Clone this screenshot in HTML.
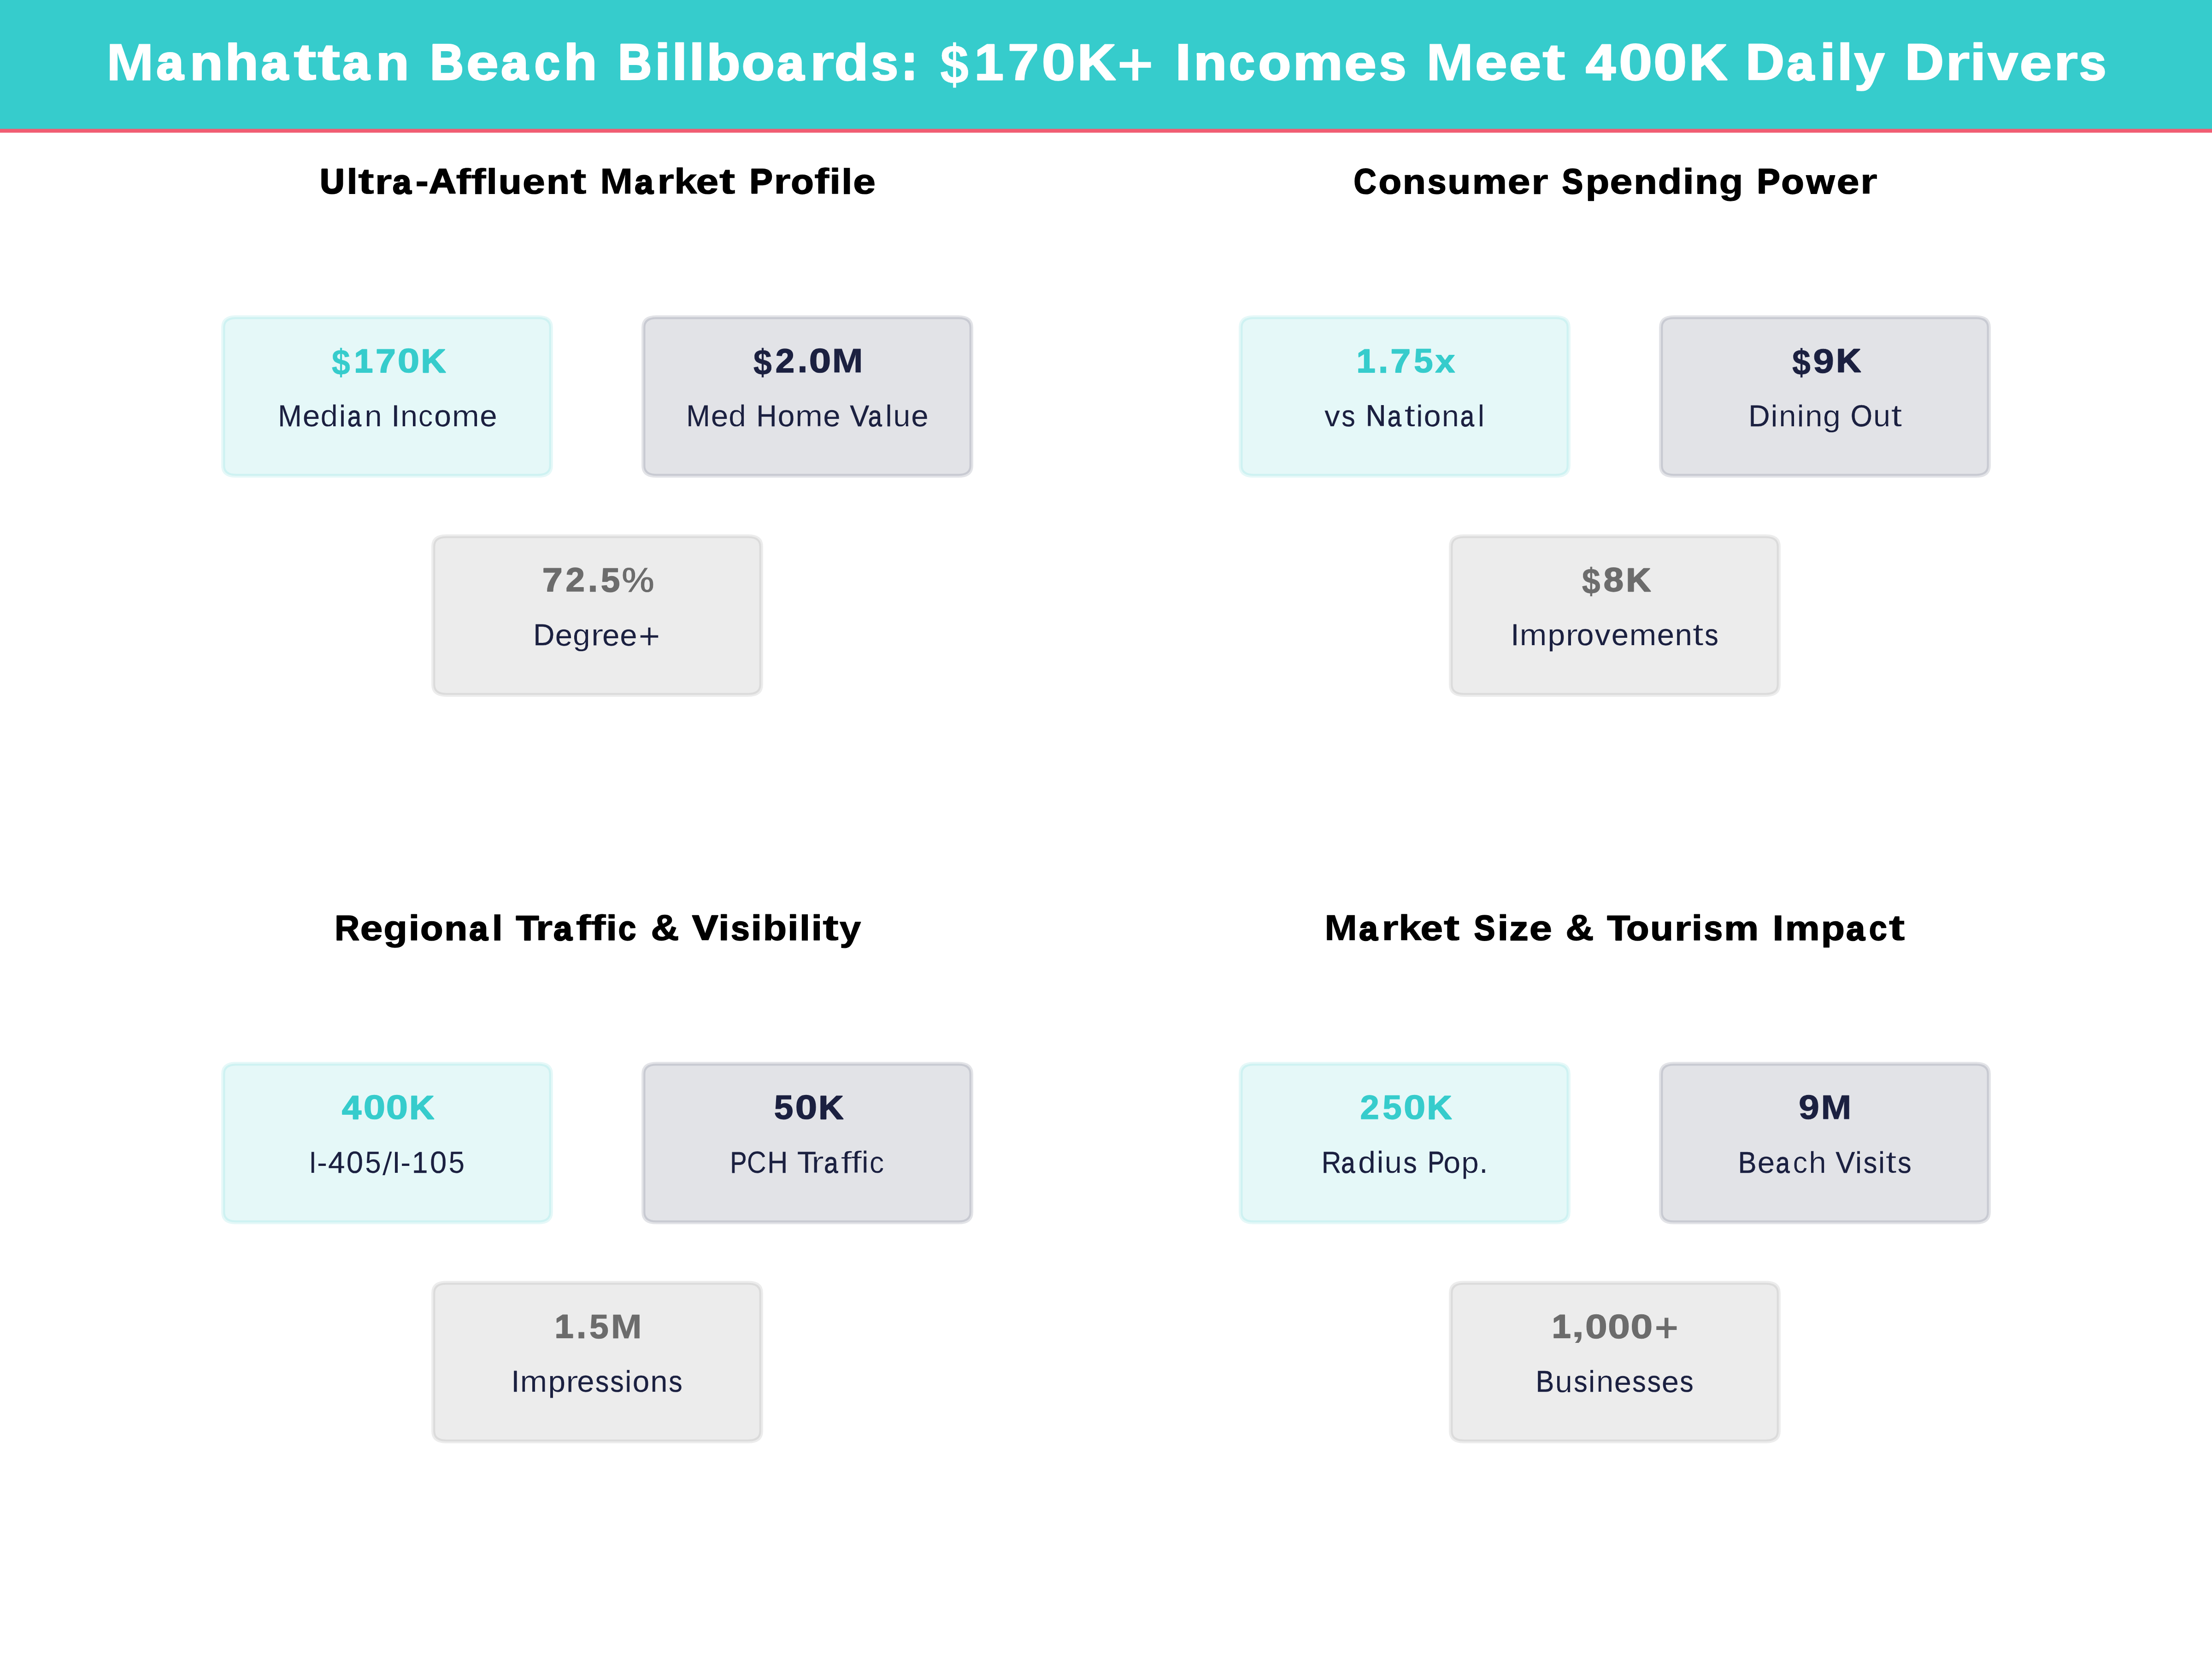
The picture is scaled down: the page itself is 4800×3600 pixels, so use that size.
<!DOCTYPE html>
<html><head><meta charset="utf-8"><title>Manhattan Beach Billboards: $170K+ Incomes Meet 400K Daily Drivers</title>
<style>
html,body{margin:0;padding:0;width:4800px;height:3600px;overflow:hidden;background:#fff;}
svg{display:block;}
text{font-family:"Liberation Sans",sans-serif;text-rendering:geometricPrecision;}
</style></head>
<body>
<svg width="4800" height="3600" viewBox="0 0 4800 3600">
<defs><clipPath id="e0"><text font-size="108.333" font-weight="700">+</text></clipPath><clipPath id="e1"><text font-size="62.5" font-weight="400">d</text></clipPath><clipPath id="e2"><text font-size="62.5" font-weight="400">n</text></clipPath><clipPath id="e3"><text font-size="62.5" font-weight="400">n</text></clipPath><clipPath id="e4"><text font-size="62.5" font-weight="400">c</text></clipPath><clipPath id="e5"><text font-size="62.5" font-weight="400">m</text></clipPath><clipPath id="e6"><text font-size="62.5" font-weight="400">d</text></clipPath><clipPath id="e7"><text font-size="62.5" font-weight="400">m</text></clipPath><clipPath id="e8"><text font-size="62.5" font-weight="400">u</text></clipPath><clipPath id="e9"><text font-size="70.833" font-weight="700">%</text></clipPath><clipPath id="e10"><text font-size="62.5" font-weight="400">g</text></clipPath><clipPath id="e11"><text font-size="62.5" font-weight="400">r</text></clipPath><clipPath id="e12"><text font-size="62.5" font-weight="400">+</text></clipPath><clipPath id="e13"><text font-size="62.5" font-weight="400">t</text></clipPath><clipPath id="e14"><text font-size="62.5" font-weight="400">n</text></clipPath><clipPath id="e15"><text font-size="62.5" font-weight="400">n</text></clipPath><clipPath id="e16"><text font-size="62.5" font-weight="400">n</text></clipPath><clipPath id="e17"><text font-size="62.5" font-weight="400">g</text></clipPath><clipPath id="e18"><text font-size="62.5" font-weight="400">u</text></clipPath><clipPath id="e19"><text font-size="62.5" font-weight="400">t</text></clipPath><clipPath id="e20"><text font-size="62.5" font-weight="400">m</text></clipPath><clipPath id="e21"><text font-size="62.5" font-weight="400">r</text></clipPath><clipPath id="e22"><text font-size="62.5" font-weight="400">m</text></clipPath><clipPath id="e23"><text font-size="62.5" font-weight="400">t</text></clipPath><clipPath id="e24"><text font-size="62.5" font-weight="400">I</text></clipPath><clipPath id="e25"><text font-size="62.5" font-weight="400">-</text></clipPath><clipPath id="e26"><text font-size="62.5" font-weight="400">/</text></clipPath><clipPath id="e27"><text font-size="62.5" font-weight="400">I</text></clipPath><clipPath id="e28"><text font-size="62.5" font-weight="400">-</text></clipPath><clipPath id="e29"><text font-size="62.5" font-weight="400">r</text></clipPath><clipPath id="e30"><text font-size="62.5" font-weight="400">f</text></clipPath><clipPath id="e31"><text font-size="62.5" font-weight="400">f</text></clipPath><clipPath id="e32"><text font-size="62.5" font-weight="400">c</text></clipPath><clipPath id="e33"><text font-size="62.5" font-weight="400">m</text></clipPath><clipPath id="e34"><text font-size="62.5" font-weight="400">r</text></clipPath><clipPath id="e35"><text font-size="62.5" font-weight="400">u</text></clipPath><clipPath id="e36"><text font-size="62.5" font-weight="400">p</text></clipPath><clipPath id="e37"><text font-size="62.5" font-weight="400">c</text></clipPath><clipPath id="e38"><text font-size="62.5" font-weight="400">h</text></clipPath><clipPath id="e39"><text font-size="62.5" font-weight="400">t</text></clipPath><clipPath id="e40"><text font-size="70.833" font-weight="700">,</text></clipPath><clipPath id="e41"><text font-size="70.833" font-weight="700">+</text></clipPath><clipPath id="e42"><text font-size="62.5" font-weight="400">u</text></clipPath><clipPath id="e43"><text font-size="62.5" font-weight="400">n</text></clipPath></defs>
<rect width="4800" height="3600" fill="#ffffff"/>
<rect x="0" y="0" width="4800" height="284" fill="#36CCCC"/>
<rect x="0" y="279.6" width="4800" height="8.3" fill="#F05D73"/>
<path d="M512.25 688.3L1167.75 688.3Q1195.75 688.3 1195.75 710.3L1195.75 1010.4Q1195.75 1032.4 1167.75 1032.4L512.25 1032.4Q484.25 1032.4 484.25 1010.4L484.25 710.3Q484.25 688.3 512.25 688.3Z" fill="#36CCCC" fill-opacity="0.129" stroke="#36CCCC" stroke-opacity="0.129" stroke-width="8.333"/>
<path d="M1424.25 688.3L2079.75 688.3Q2107.75 688.3 2107.75 710.3L2107.75 1010.4Q2107.75 1032.4 2079.75 1032.4L1424.25 1032.4Q1396.25 1032.4 1396.25 1010.4L1396.25 710.3Q1396.25 688.3 1424.25 688.3Z" fill="#1B2040" fill-opacity="0.125" stroke="#1B2040" stroke-opacity="0.125" stroke-width="8.333"/>
<path d="M968.25 1163.7L1623.75 1163.7Q1651.75 1163.7 1651.75 1185.7L1651.75 1485.8Q1651.75 1507.8 1623.75 1507.8L968.25 1507.8Q940.25 1507.8 940.25 1485.8L940.25 1185.7Q940.25 1163.7 968.25 1163.7Z" fill="#6C6C6C" fill-opacity="0.129" stroke="#6C6C6C" stroke-opacity="0.129" stroke-width="8.333"/>
<path d="M2720.25 688.3L3375.75 688.3Q3403.75 688.3 3403.75 710.3L3403.75 1010.4Q3403.75 1032.4 3375.75 1032.4L2720.25 1032.4Q2692.25 1032.4 2692.25 1010.4L2692.25 710.3Q2692.25 688.3 2720.25 688.3Z" fill="#36CCCC" fill-opacity="0.129" stroke="#36CCCC" stroke-opacity="0.129" stroke-width="8.333"/>
<path d="M3632.25 688.3L4287.75 688.3Q4315.75 688.3 4315.75 710.3L4315.75 1010.4Q4315.75 1032.4 4287.75 1032.4L3632.25 1032.4Q3604.25 1032.4 3604.25 1010.4L3604.25 710.3Q3604.25 688.3 3632.25 688.3Z" fill="#1B2040" fill-opacity="0.125" stroke="#1B2040" stroke-opacity="0.125" stroke-width="8.333"/>
<path d="M3176.25 1163.7L3831.75 1163.7Q3859.75 1163.7 3859.75 1185.7L3859.75 1485.8Q3859.75 1507.8 3831.75 1507.8L3176.25 1507.8Q3148.25 1507.8 3148.25 1485.8L3148.25 1185.7Q3148.25 1163.7 3176.25 1163.7Z" fill="#6C6C6C" fill-opacity="0.129" stroke="#6C6C6C" stroke-opacity="0.129" stroke-width="8.333"/>
<path d="M512.25 2308.3L1167.75 2308.3Q1195.75 2308.3 1195.75 2330.3L1195.75 2630.4Q1195.75 2652.4 1167.75 2652.4L512.25 2652.4Q484.25 2652.4 484.25 2630.4L484.25 2330.3Q484.25 2308.3 512.25 2308.3Z" fill="#36CCCC" fill-opacity="0.129" stroke="#36CCCC" stroke-opacity="0.129" stroke-width="8.333"/>
<path d="M1424.25 2308.3L2079.75 2308.3Q2107.75 2308.3 2107.75 2330.3L2107.75 2630.4Q2107.75 2652.4 2079.75 2652.4L1424.25 2652.4Q1396.25 2652.4 1396.25 2630.4L1396.25 2330.3Q1396.25 2308.3 1424.25 2308.3Z" fill="#1B2040" fill-opacity="0.125" stroke="#1B2040" stroke-opacity="0.125" stroke-width="8.333"/>
<path d="M968.25 2783.7L1623.75 2783.7Q1651.75 2783.7 1651.75 2805.7L1651.75 3105.8Q1651.75 3127.8 1623.75 3127.8L968.25 3127.8Q940.25 3127.8 940.25 3105.8L940.25 2805.7Q940.25 2783.7 968.25 2783.7Z" fill="#6C6C6C" fill-opacity="0.129" stroke="#6C6C6C" stroke-opacity="0.129" stroke-width="8.333"/>
<path d="M2720.25 2308.3L3375.75 2308.3Q3403.75 2308.3 3403.75 2330.3L3403.75 2630.4Q3403.75 2652.4 3375.75 2652.4L2720.25 2652.4Q2692.25 2652.4 2692.25 2630.4L2692.25 2330.3Q2692.25 2308.3 2720.25 2308.3Z" fill="#36CCCC" fill-opacity="0.129" stroke="#36CCCC" stroke-opacity="0.129" stroke-width="8.333"/>
<path d="M3632.25 2308.3L4287.75 2308.3Q4315.75 2308.3 4315.75 2330.3L4315.75 2630.4Q4315.75 2652.4 4287.75 2652.4L3632.25 2652.4Q3604.25 2652.4 3604.25 2630.4L3604.25 2330.3Q3604.25 2308.3 3632.25 2308.3Z" fill="#1B2040" fill-opacity="0.125" stroke="#1B2040" stroke-opacity="0.125" stroke-width="8.333"/>
<path d="M3176.25 2783.7L3831.75 2783.7Q3859.75 2783.7 3859.75 2805.7L3859.75 3105.8Q3859.75 3127.8 3831.75 3127.8L3176.25 3127.8Q3148.25 3127.8 3148.25 3105.8L3148.25 2805.7Q3148.25 2783.7 3176.25 2783.7Z" fill="#6C6C6C" fill-opacity="0.129" stroke="#6C6C6C" stroke-opacity="0.129" stroke-width="8.333"/>
<g font-size="108.333" font-weight="700" fill="#FFFFFF" stroke="#FFFFFF" stroke-linejoin="round"><text transform="matrix(1.148 0 0 1.048 230.405 173.777)" stroke-width="0.779">M</text><text transform="matrix(0.96 0 0 0.974 339.937 172.499)" stroke-width="4.682">a</text><text transform="matrix(1.082 0 0 0.99 412.028 172.743)" stroke-width="2.905">n</text><text transform="matrix(1.099 0 0 1.017 488.334 172.949)" stroke-width="2.417">h</text><text transform="matrix(0.96 0 0 0.974 567.207 172.499)" stroke-width="4.682">a</text><text transform="matrix(1.396 0 0 1.046 636.638 172.624)" stroke-width="0.997">t</text><text transform="matrix(1.396 0 0 1.046 688.406 172.624)" stroke-width="0.997">t</text><text transform="matrix(0.96 0 0 0.974 743.821 172.499)" stroke-width="4.682">a</text><text transform="matrix(1.082 0 0 0.99 815.912 172.743)" stroke-width="2.905">n </text><text transform="matrix(0.92 0 0 1.005 933.686 172.149)" stroke-width="4.369">B</text><text transform="matrix(1.166 0 0 1.007 1011.715 173.457)" stroke-width="2.286">e</text><text transform="matrix(0.957 0 0 0.972 1088.003 172.442)" stroke-width="4.824">a</text><text transform="matrix(0.936 0 0 1.002 1159.143 173.311)" stroke-width="2.884">c</text><text transform="matrix(1.095 0 0 1.015 1223.299 172.892)" stroke-width="2.534">h </text><text transform="matrix(0.925 0 0 1.007 1341.574 172.224)" stroke-width="4.191">B</text><text transform="matrix(1.151 0 0 1.025 1420.322 173.28)" stroke-width="1.975">i</text><text transform="matrix(1.263 0 0 1.046 1455.806 174.116)" stroke-width="0.183">l</text><text transform="matrix(1.263 0 0 1.046 1492.977 174.116)" stroke-width="0.183">l</text><text transform="matrix(1.127 0 0 1.028 1532.619 173.6)" stroke-width="1.981">b</text><text transform="matrix(1.074 0 0 0.994 1609.852 173.086)" stroke-width="3.191">o</text><text transform="matrix(0.962 0 0 0.974 1686.442 172.509)" stroke-width="4.655">a</text><text transform="matrix(1.295 0 0 1.026 1756.083 173.794)" stroke-width="0.734">r</text><text transform="matrix(1.126 0 0 1.027 1810.246 173.569)" stroke-width="2.045">d</text><text transform="matrix(0.975 0 0 0.996 1890.349 173.153)" stroke-width="3.172">s</text><text transform="matrix(0.86 0 0 0.973 1957.626 171.2)" stroke-width="6.556">: </text><text transform="matrix(1.031 0 0 1.105 2040.077 180.988)" stroke-width="0.471">$</text><text transform="matrix(1.047 0 0 1.02 2114.784 172.731)" stroke-width="2.902">1</text><text transform="matrix(1.116 0 0 1.023 2187.065 172.823)" stroke-width="2.626">7</text><text transform="matrix(1.234 0 0 1.049 2259.658 173.903)" stroke-width="1.299">0</text><text transform="matrix(1.059 0 0 1.017 2338.302 172.61)" stroke-width="3.11">K</text><text transform="matrix(1.299 0 0 1.285 2422.61 186.513)" stroke="#36CCCC" stroke-width="2.148" clip-path="url(#e0)">+ </text><text transform="matrix(1.288 0 0 1.056 2548.083 174.081)" stroke-width="0.255">I</text><text transform="matrix(1.081 0 0 0.99 2590.463 172.742)" stroke-width="2.907">n</text><text transform="matrix(0.939 0 0 1.004 2666.687 173.36)" stroke-width="2.768">c</text><text transform="matrix(1.071 0 0 0.994 2730.587 173.074)" stroke-width="3.222">o</text><text transform="matrix(1.125 0 0 0.998 2805.389 172.984)" stroke-width="2.333">m</text><text transform="matrix(1.17 0 0 1.009 2916.869 173.508)" stroke-width="2.18">e</text><text transform="matrix(0.973 0 0 0.995 2992.855 173.142)" stroke-width="3.198">s </text><text transform="matrix(1.144 0 0 1.047 3094.476 173.731)" stroke-width="0.865">M</text><text transform="matrix(1.166 0 0 1.007 3200.851 173.459)" stroke-width="2.283">e</text><text transform="matrix(1.166 0 0 1.007 3274.152 173.459)" stroke-width="2.283">e</text><text transform="matrix(1.39 0 0 1.044 3346.766 172.562)" stroke-width="1.111">t </text><text transform="matrix(1.068 0 0 1.015 3441.206 172.543)" stroke-width="3.24">4</text><text transform="matrix(1.228 0 0 1.049 3512.222 173.876)" stroke-width="1.352">0</text><text transform="matrix(1.228 0 0 1.049 3587.34 173.876)" stroke-width="1.352">0</text><text transform="matrix(1.054 0 0 1.016 3665.687 172.588)" stroke-width="3.156">K </text><text transform="matrix(1.066 0 0 1.013 3788.316 172.455)" stroke-width="3.436">D</text><text transform="matrix(0.963 0 0 0.975 3878.115 172.529)" stroke-width="4.604">a</text><text transform="matrix(1.155 0 0 1.026 3948.743 173.315)" stroke-width="1.893">i</text><text transform="matrix(1.27 0 0 1.048 3984.184 174.167)" stroke-width="0.071">l</text><text transform="matrix(1.115 0 0 1.014 4023.092 173.889)" stroke-width="1.705">y </text><text transform="matrix(1.065 0 0 1.012 4134.35 172.432)" stroke-width="3.486">D</text><text transform="matrix(1.294 0 0 1.026 4220.546 173.796)" stroke-width="0.73">r</text><text transform="matrix(1.15 0 0 1.025 4275.023 173.284)" stroke-width="1.967">i</text><text transform="matrix(1.104 0 0 1.003 4312.942 173.279)" stroke-width="1.792">v</text><text transform="matrix(1.171 0 0 1.01 4382.31 173.521)" stroke-width="2.153">e</text><text transform="matrix(1.294 0 0 1.026 4455.203 173.796)" stroke-width="0.73">r</text><text transform="matrix(0.975 0 0 0.996 4511.79 173.155)" stroke-width="3.172">s</text></g>
<g font-size="75" font-weight="700" fill="#000000" stroke="#000000" stroke-linejoin="round"><text transform="matrix(0.967 0 0 0.998 694.693 419.383)" stroke-width="3.645">U</text><text transform="matrix(1.259 0 0 1.046 751.022 420.729)" stroke-width="0.156">l</text><text transform="matrix(1.396 0 0 1.046 777.037 419.711)" stroke-width="0.687">t</text><text transform="matrix(1.292 0 0 1.026 812.926 420.513)" stroke-width="0.518">r</text><text transform="matrix(0.96 0 0 0.974 852.312 419.624)" stroke-width="3.237">a</text><text transform="matrix(1.201 0 0 1.182 900.817 422.191)" stroke-width="0.103">-</text><text transform="matrix(1.084 0 0 1.007 931.021 419.439)" stroke-width="2.65">A</text><text transform="matrix(1.311 0 0 1.038 989.322 420.516)" stroke-width="0.504">f</text><text transform="matrix(1.311 0 0 1.038 1021.912 420.516)" stroke-width="0.504">f</text><text transform="matrix(1.259 0 0 1.046 1054.243 420.729)" stroke-width="0.156">l</text><text transform="matrix(1.083 0 0 0.994 1081.941 420.156)" stroke-width="1.944">u</text><text transform="matrix(1.17 0 0 1.009 1134.067 420.324)" stroke-width="1.504">e</text><text transform="matrix(1.082 0 0 0.99 1186.232 419.794)" stroke-width="2.006">n</text><text transform="matrix(1.396 0 0 1.046 1237.72 419.711)" stroke-width="0.687">t </text><text transform="matrix(1.144 0 0 1.047 1301.879 420.48)" stroke-width="0.591">M</text><text transform="matrix(0.957 0 0 0.972 1377.528 419.589)" stroke-width="3.325">a</text><text transform="matrix(1.287 0 0 1.024 1425.564 420.477)" stroke-width="0.586">r</text><text transform="matrix(1.211 0 0 1.037 1462.453 420.49)" stroke-width="0.563">k</text><text transform="matrix(1.166 0 0 1.008 1510.575 420.292)" stroke-width="1.571">e</text><text transform="matrix(1.39 0 0 1.044 1560.82 419.672)" stroke-width="0.758">t </text><text transform="matrix(0.994 0 0 1.006 1626.686 419.428)" stroke-width="2.819">P</text><text transform="matrix(1.289 0 0 1.024 1678.533 420.481)" stroke-width="0.578">r</text><text transform="matrix(1.069 0 0 0.992 1716.45 419.988)" stroke-width="2.303">o</text><text transform="matrix(1.307 0 0 1.037 1766.718 420.482)" stroke-width="0.565">f</text><text transform="matrix(1.136 0 0 1.023 1800.253 420.104)" stroke-width="1.508">i</text><text transform="matrix(1.244 0 0 1.043 1824.803 420.655)" stroke-width="0.32">l</text><text transform="matrix(1.167 0 0 1.008 1851.17 420.294)" stroke-width="1.564">e</text></g>
<g font-size="75" font-weight="700" fill="#000000" stroke="#000000" stroke-linejoin="round"><text transform="matrix(0.908 0 0 1.032 2937.477 420.138)" stroke-width="2.03">C</text><text transform="matrix(1.073 0 0 0.996 2991.673 420.061)" stroke-width="2.142">o</text><text transform="matrix(1.083 0 0 0.992 3043.879 419.829)" stroke-width="1.932">n</text><text transform="matrix(0.975 0 0 0.997 3097.626 420.099)" stroke-width="2.144">s</text><text transform="matrix(1.085 0 0 0.996 3141.607 420.19)" stroke-width="1.87">u</text><text transform="matrix(1.126 0 0 1 3194.629 419.992)" stroke-width="1.547">m</text><text transform="matrix(1.171 0 0 1.011 3271.755 420.354)" stroke-width="1.442">e</text><text transform="matrix(1.295 0 0 1.027 3322.131 420.547)" stroke-width="0.457">r </text><text transform="matrix(0.904 0 0 1.02 3389.819 419.842)" stroke-width="2.697">S</text><text transform="matrix(1.123 0 0 0.999 3440.728 420.039)" stroke-width="1.561">p</text><text transform="matrix(1.173 0 0 1.01 3493.45 420.343)" stroke-width="1.462">e</text><text transform="matrix(1.085 0 0 0.991 3545.706 419.816)" stroke-width="1.957">n</text><text transform="matrix(1.127 0 0 1.027 3597.846 420.379)" stroke-width="1.384">d</text><text transform="matrix(1.156 0 0 1.026 3651.79 420.189)" stroke-width="1.307">i</text><text transform="matrix(1.085 0 0 0.991 3678.578 419.816)" stroke-width="1.957">n</text><text transform="matrix(1.136 0 0 1.012 3730.547 420.319)" stroke-width="1.117">g </text><text transform="matrix(0.995 0 0 1.006 3812.678 419.429)" stroke-width="2.817">P</text><text transform="matrix(1.07 0 0 0.992 3865.592 419.988)" stroke-width="2.301">o</text><text transform="matrix(1.058 0 0 0.987 3919.685 419.841)" stroke-width="1.9">w</text><text transform="matrix(1.169 0 0 1.008 3985.734 420.296)" stroke-width="1.562">e</text><text transform="matrix(1.29 0 0 1.024 4036.186 420.482)" stroke-width="0.576">r</text></g>
<g font-size="75" font-weight="700" fill="#000000" stroke="#000000" stroke-linejoin="round"><text transform="matrix(0.996 0 0 1.024 726.236 2039.868)" stroke-width="1.877">R</text><text transform="matrix(1.169 0 0 1.009 781.669 2040.318)" stroke-width="1.518">e</text><text transform="matrix(1.132 0 0 1.011 832.338 2040.308)" stroke-width="1.167">g</text><text transform="matrix(1.144 0 0 1.024 886.381 2040.144)" stroke-width="1.415">i</text><text transform="matrix(1.07 0 0 0.994 912.29 2040.015)" stroke-width="2.242">o</text><text transform="matrix(1.08 0 0 0.99 964.476 2039.788)" stroke-width="2.021">n</text><text transform="matrix(0.959 0 0 0.974 1018.451 2039.619)" stroke-width="3.253">a</text><text transform="matrix(1.255 0 0 1.045 1066.131 2040.713)" stroke-width="0.191">l </text><text transform="matrix(1.083 0 0 1.011 1119.638 2039.55)" stroke-width="2.432">T</text><text transform="matrix(1.285 0 0 1.022 1162.091 2040.433)" stroke-width="0.668">r</text><text transform="matrix(0.956 0 0 0.97 1201.45 2039.544)" stroke-width="3.43">a</text><text transform="matrix(1.304 0 0 1.035 1249.391 2040.432)" stroke-width="0.657">f</text><text transform="matrix(1.304 0 0 1.035 1281.976 2040.432)" stroke-width="0.657">f</text><text transform="matrix(1.122 0 0 1.02 1315.623 2040.028)" stroke-width="1.691">i</text><text transform="matrix(0.935 0 0 1.001 1341.567 2040.152)" stroke-width="2.071">c </text><text transform="matrix(1.134 0 0 1.051 1412.259 2040.396)" stroke-width="1.286">&amp; </text><text transform="matrix(1.116 0 0 1.008 1502.269 2039.459)" stroke-width="2.567">V</text><text transform="matrix(1.157 0 0 1.026 1558.728 2040.19)" stroke-width="1.304">i</text><text transform="matrix(0.977 0 0 0.996 1585.964 2040.09)" stroke-width="2.161">s</text><text transform="matrix(1.157 0 0 1.026 1629.163 2040.19)" stroke-width="1.304">i</text><text transform="matrix(1.129 0 0 1.028 1655.478 2040.401)" stroke-width="1.338">b</text><text transform="matrix(1.157 0 0 1.026 1708.653 2040.19)" stroke-width="1.304">i</text><text transform="matrix(1.272 0 0 1.048 1733.199 2040.782)" stroke="none">l</text><text transform="matrix(1.157 0 0 1.026 1760.131 2040.19)" stroke-width="1.304">i</text><text transform="matrix(1.401 0 0 1.047 1785.094 2039.736)" stroke-width="0.641">t</text><text transform="matrix(1.116 0 0 1.014 1821.79 2040.585)" stroke-width="1.178">y</text></g>
<g font-size="75" font-weight="700" fill="#000000" stroke="#000000" stroke-linejoin="round"><text transform="matrix(1.144 0 0 1.047 2873.898 2040.464)" stroke-width="0.62">M</text><text transform="matrix(0.955 0 0 0.971 2949.551 2039.569)" stroke-width="3.369">a</text><text transform="matrix(1.285 0 0 1.023 2997.592 2040.457)" stroke-width="0.622">r</text><text transform="matrix(1.21 0 0 1.036 3034.476 2040.472)" stroke-width="0.595">k</text><text transform="matrix(1.165 0 0 1.007 3082.598 2040.273)" stroke-width="1.607">e</text><text transform="matrix(1.388 0 0 1.043 3132.843 2039.651)" stroke-width="0.797">t </text><text transform="matrix(0.909 0 0 1.021 3198.798 2039.851)" stroke-width="2.669">S</text><text transform="matrix(1.166 0 0 1.027 3249.242 2040.205)" stroke-width="1.265">i</text><text transform="matrix(1.086 0 0 0.975 3275.602 2039.601)" stroke-width="2.402">z</text><text transform="matrix(1.18 0 0 1.011 3318.736 2040.353)" stroke-width="1.439">e </text><text transform="matrix(1.134 0 0 1.051 3397.259 2040.396)" stroke-width="1.286">&amp; </text><text transform="matrix(1.085 0 0 1.014 3487.56 2039.626)" stroke-width="2.277">T</text><text transform="matrix(1.069 0 0 0.994 3529.182 2040.018)" stroke-width="2.236">o</text><text transform="matrix(1.081 0 0 0.994 3581.171 2040.151)" stroke-width="1.955">u</text><text transform="matrix(1.29 0 0 1.025 3632.822 2040.508)" stroke-width="0.528">r</text><text transform="matrix(1.144 0 0 1.024 3670.459 2040.147)" stroke-width="1.408">i</text><text transform="matrix(0.972 0 0 0.995 3697.53 2040.066)" stroke-width="2.22">s</text><text transform="matrix(1.123 0 0 0.998 3741.174 2039.957)" stroke-width="1.618">m </text><text transform="matrix(1.285 0 0 1.056 3844.941 2040.71)" stroke-width="0.193">I</text><text transform="matrix(1.124 0 0 0.998 3873.772 2039.956)" stroke-width="1.62">m</text><text transform="matrix(1.118 0 0 0.998 3951.836 2040.027)" stroke-width="1.617">p</text><text transform="matrix(0.959 0 0 0.974 4006.438 2039.621)" stroke-width="3.25">a</text><text transform="matrix(0.938 0 0 1.004 4055.672 2040.216)" stroke-width="1.924">c</text><text transform="matrix(1.394 0 0 1.046 4098.766 2039.704)" stroke-width="0.699">t</text></g>
<g font-size="70.833" font-weight="700" fill="#36CCCC" stroke="#36CCCC" stroke-linejoin="round"><text transform="matrix(1.021 0 0 1.103 719.769 813.089)" stroke-width="0.423">$</text><text transform="matrix(1.034 0 0 1.017 768.378 807.653)" stroke-width="2.086">1</text><text transform="matrix(1.104 0 0 1.019 815.348 807.713)" stroke-width="1.897">7</text><text transform="matrix(1.22 0 0 1.045 862.546 808.404)" stroke-width="1.048">0</text><text transform="matrix(1.048 0 0 1.013 913.647 807.572)" stroke-width="2.222">K</text></g>
<g font-size="62.5" font-weight="400" fill="#1B2040" stroke="#1B2040" stroke-linejoin="round"><text transform="matrix(0.992 0 0 1.054 603.342 924.77)" stroke-width="0.254">M</text><text transform="matrix(1.081 0 0 1.048 656.75 925.139)" stroke="none">e</text><text transform="matrix(1.093 0 0 1.057 695.195 925.201)" stroke="#E5F8F8" stroke-width="0.114" clip-path="url(#e1)">d</text><text transform="matrix(0.913 0 0 1.035 736.786 924.596)" stroke-width="0.747">i</text><text transform="matrix(0.872 0 0 1.021 753.7 924.698)" stroke-width="0.989">a</text><text transform="matrix(1.084 0 0 1.044 791.271 924.961)" stroke="#E5F8F8" stroke-width="0.115" clip-path="url(#e2)">n </text><text transform="matrix(0.985 0 0 1.05 849.832 924.689)" stroke-width="0.522">I</text><text transform="matrix(1.08 0 0 1.043 868.751 924.932)" stroke="#E5F8F8" stroke-width="0.06" clip-path="url(#e3)">n</text><text transform="matrix(1.01 0 0 1.054 907.846 925.242)" stroke="#E5F8F8" stroke-width="0.196" clip-path="url(#e4)">c</text><text transform="matrix(1.055 0 0 1.042 942.318 925.036)" stroke-width="0.218">o</text><text transform="matrix(1.144 0 0 1.048 980.544 925.024)" stroke="#E5F8F8" stroke-width="0.227" clip-path="url(#e5)">m</text><text transform="matrix(1.077 0 0 1.046 1041.215 925.112)" stroke-width="0.066">e</text></g>
<g font-size="70.833" font-weight="700" fill="#1B2040" stroke="#1B2040" stroke-linejoin="round"><text transform="matrix(1.02 0 0 1.101 1634.817 813.051)" stroke-width="0.512">$</text><text transform="matrix(1.05 0 0 1.032 1682.847 807.929)" stroke-width="1.512">2</text><text transform="matrix(1.192 0 0 1.224 1729.863 808.462)" stroke-width="0.5">.</text><text transform="matrix(1.217 0 0 1.042 1755.587 808.322)" stroke-width="1.205">0</text><text transform="matrix(1.139 0 0 1.044 1805.5 808.321)" stroke-width="0.702">M</text></g>
<g font-size="62.5" font-weight="400" fill="#1B2040" stroke="#1B2040" stroke-linejoin="round"><text transform="matrix(0.991 0 0 1.054 1489.333 924.785)" stroke-width="0.226">M</text><text transform="matrix(1.08 0 0 1.049 1542.644 925.154)" stroke="none">e</text><text transform="matrix(1.092 0 0 1.057 1581.019 925.216)" stroke="#E2E3E7" stroke-width="0.143" clip-path="url(#e6)">d </text><text transform="matrix(0.977 0 0 1.049 1641.527 924.663)" stroke-width="0.471">H</text><text transform="matrix(1.052 0 0 1.042 1687.776 925.044)" stroke-width="0.201">o</text><text transform="matrix(1.141 0 0 1.049 1725.869 925.03)" stroke="#E2E3E7" stroke-width="0.239" clip-path="url(#e7)">m</text><text transform="matrix(1.074 0 0 1.047 1786.327 925.119)" stroke-width="0.052">e </text><text transform="matrix(0.995 0 0 1.044 1844.561 924.566)" stroke-width="0.658">V</text><text transform="matrix(0.865 0 0 1.019 1883.704 924.663)" stroke-width="1.072">a</text><text transform="matrix(0.941 0 0 1.039 1922.041 924.688)" stroke-width="0.54">l</text><text transform="matrix(1.083 0 0 1.074 1938 925.25)" stroke="#E2E3E7" stroke-width="0.225" clip-path="url(#e8)">u</text><text transform="matrix(1.074 0 0 1.046 1977.325 925.106)" stroke-width="0.078">e</text></g>
<g font-size="70.833" font-weight="700" fill="#6C6C6C" stroke="#6C6C6C" stroke-linejoin="round"><text transform="matrix(1.104 0 0 1.016 1177 1283.041)" stroke-width="2.041">7</text><text transform="matrix(1.052 0 0 1.032 1227.533 1283.326)" stroke-width="1.514">2</text><text transform="matrix(1.194 0 0 1.223 1274.644 1283.859)" stroke-width="0.507">.</text><text transform="matrix(1.059 0 0 1.036 1303.644 1283.669)" stroke-width="1.394">5</text><text transform="matrix(1.128 0 0 1.089 1348.904 1284.848)" stroke="#ECECEC" stroke-width="0.628" clip-path="url(#e9)">%</text></g>
<g font-size="62.5" font-weight="400" fill="#1B2040" stroke="#1B2040" stroke-linejoin="round"><text transform="matrix(1.021 0 0 1.05 1157.265 1400.103)" stroke-width="0.383">D</text><text transform="matrix(1.074 0 0 1.046 1204.776 1400.509)" stroke-width="0.072">e</text><text transform="matrix(1.087 0 0 1.035 1243.004 1399.938)" stroke="#ECECEC" stroke-width="0.106" clip-path="url(#e10)">g</text><text transform="matrix(1.338 0 0 1.069 1281.65 1400.773)" stroke="#ECECEC" stroke-width="0.804" clip-path="url(#e11)">r</text><text transform="matrix(1.074 0 0 1.046 1306.881 1400.509)" stroke-width="0.072">e</text><text transform="matrix(1.074 0 0 1.046 1345.205 1400.509)" stroke-width="0.072">e</text><text transform="matrix(1.302 0 0 1.299 1385.258 1407.713)" stroke="#ECECEC" stroke-width="0.424" clip-path="url(#e12)">+</text></g>
<g font-size="70.833" font-weight="700" fill="#36CCCC" stroke="#36CCCC" stroke-linejoin="round"><text transform="matrix(1.036 0 0 1.017 2943.712 807.668)" stroke-width="2.056">1</text><text transform="matrix(1.217 0 0 1.249 2989.809 808.596)" stroke-width="0.213">.</text><text transform="matrix(1.105 0 0 1.02 3017.451 807.727)" stroke-width="1.868">7</text><text transform="matrix(1.06 0 0 1.039 3067.903 808.347)" stroke-width="1.236">5</text><text transform="matrix(1.086 0 0 0.993 3114.48 807.916)" stroke-width="1.532">x</text></g>
<g font-size="62.5" font-weight="400" fill="#1B2040" stroke="#1B2040" stroke-linejoin="round"><text transform="matrix(1.068 0 0 1.031 2874.333 924.839)" stroke-width="0.117">v</text><text transform="matrix(0.941 0 0 1.042 2911.271 924.995)" stroke-width="0.313">s </text><text transform="matrix(0.957 0 0 1.035 2963.926 924.367)" stroke-width="1.075">N</text><text transform="matrix(0.869 0 0 1.02 3010.846 924.675)" stroke-width="1.042">a</text><text transform="matrix(1.387 0 0 1.093 3047.163 924.773)" stroke="#E5F8F8" stroke-width="0.67" clip-path="url(#e13)">t</text><text transform="matrix(0.893 0 0 1.033 3074.214 924.546)" stroke-width="0.884">i</text><text transform="matrix(1.056 0 0 1.042 3089.851 925.043)" stroke-width="0.204">o</text><text transform="matrix(1.081 0 0 1.043 3128.45 924.938)" stroke="#E5F8F8" stroke-width="0.073" clip-path="url(#e14)">n</text><text transform="matrix(0.869 0 0 1.02 3168.838 924.675)" stroke-width="1.042">a</text><text transform="matrix(0.958 0 0 1.041 3207.228 924.724)" stroke-width="0.444">l</text></g>
<g font-size="70.833" font-weight="700" fill="#1B2040" stroke="#1B2040" stroke-linejoin="round"><text transform="matrix(1.014 0 0 1.099 3888.887 812.998)" stroke-width="0.637">$</text><text transform="matrix(1.162 0 0 1.049 3934.198 808.517)" stroke-width="0.851">9</text><text transform="matrix(1.039 0 0 1.006 3984.721 807.403)" stroke-width="2.577">K</text></g>
<g font-size="62.5" font-weight="400" fill="#1B2040" stroke="#1B2040" stroke-linejoin="round"><text transform="matrix(1.026 0 0 1.051 3794.221 924.718)" stroke-width="0.352">D</text><text transform="matrix(0.899 0 0 1.033 3843.834 924.556)" stroke-width="0.855">i</text><text transform="matrix(1.083 0 0 1.043 3859.884 924.943)" stroke="#E2E3E7" stroke-width="0.082" clip-path="url(#e15)">n</text><text transform="matrix(0.899 0 0 1.033 3900.888 924.556)" stroke-width="0.855">i</text><text transform="matrix(1.083 0 0 1.043 3916.938 924.943)" stroke="#E2E3E7" stroke-width="0.082" clip-path="url(#e16)">n</text><text transform="matrix(1.093 0 0 1.035 3955.971 924.544)" stroke="#E2E3E7" stroke-width="0.132" clip-path="url(#e17)">g </text><text transform="matrix(0.973 0 0 1.055 4015.719 924.841)" stroke-width="0.595">O</text><text transform="matrix(1.083 0 0 1.072 4064.773 925.207)" stroke="#E2E3E7" stroke-width="0.142" clip-path="url(#e18)">u</text><text transform="matrix(1.378 0 0 1.09 4103.543 924.71)" stroke="#E2E3E7" stroke-width="0.565" clip-path="url(#e19)">t</text></g>
<g font-size="70.833" font-weight="700" fill="#6C6C6C" stroke="#6C6C6C" stroke-linejoin="round"><text transform="matrix(1.015 0 0 1.1 3432.869 1288.413)" stroke-width="0.604">$</text><text transform="matrix(1.098 0 0 1.031 3479.716 1283.448)" stroke-width="1.811">8</text><text transform="matrix(1.04 0 0 1.007 3528.69 1282.829)" stroke-width="2.521">K</text></g>
<g font-size="62.5" font-weight="400" fill="#1B2040" stroke="#1B2040" stroke-linejoin="round"><text transform="matrix(0.967 0 0 1.048 3278.98 1400.045)" stroke-width="0.64">I</text><text transform="matrix(1.141 0 0 1.047 3297.373 1400.41)" stroke="#ECECEC" stroke-width="0.202" clip-path="url(#e20)">m</text><text transform="matrix(1.082 0 0 1.029 3358.586 1399.914)" stroke-width="0.072">p</text><text transform="matrix(1.336 0 0 1.068 3396.444 1400.762)" stroke="#ECECEC" stroke-width="0.785" clip-path="url(#e21)">r</text><text transform="matrix(1.051 0 0 1.041 3421.845 1400.421)" stroke-width="0.248">o</text><text transform="matrix(1.068 0 0 1.028 3460.898 1400.184)" stroke-width="0.224">v</text><text transform="matrix(1.073 0 0 1.045 3496.66 1400.498)" stroke-width="0.093">e</text><text transform="matrix(1.141 0 0 1.047 3535.166 1400.41)" stroke="#ECECEC" stroke-width="0.202" clip-path="url(#e22)">m</text><text transform="matrix(1.073 0 0 1.045 3595.678 1400.498)" stroke-width="0.093">e</text><text transform="matrix(1.076 0 0 1.042 3634.546 1400.317)" stroke="none">n</text><text transform="matrix(1.38 0 0 1.092 3672.84 1400.15)" stroke="#ECECEC" stroke-width="0.633" clip-path="url(#e23)">t</text><text transform="matrix(0.94 0 0 1.039 3699.233 1400.343)" stroke-width="0.424">s</text></g>
<g font-size="70.833" font-weight="700" fill="#36CCCC" stroke="#36CCCC" stroke-linejoin="round"><text transform="matrix(1.059 0 0 1.012 742.33 2427.534)" stroke-width="2.294">4</text><text transform="matrix(1.217 0 0 1.045 788.609 2428.393)" stroke-width="1.069">0</text><text transform="matrix(1.217 0 0 1.045 837.534 2428.393)" stroke-width="1.069">0</text><text transform="matrix(1.046 0 0 1.013 888.55 2427.563)" stroke-width="2.243">K</text></g>
<g font-size="62.5" font-weight="400" fill="#1B2040" stroke="#1B2040" stroke-linejoin="round"><text transform="matrix(1.089 0 0 1.064 669.131 2544.991)" stroke="#E5F8F8" stroke-width="0.21" clip-path="url(#e24)">I</text><text transform="matrix(1.086 0 0 1.051 687.769 2545.229)" stroke="#E5F8F8" stroke-width="0.148" clip-path="url(#e25)">-</text><text transform="matrix(1.04 0 0 1.049 712.133 2544.676)" stroke-width="0.43">4</text><text transform="matrix(1.047 0 0 1.063 751.781 2545.03)" stroke-width="0.202">0</text><text transform="matrix(0.995 0 0 1.065 792.196 2545.144)" stroke="none">5</text><text transform="matrix(1.269 0 0 1.14 829.146 2550.492)" stroke="#E5F8F8" stroke-width="0.821" clip-path="url(#e26)">/</text><text transform="matrix(1.089 0 0 1.064 850.457 2544.991)" stroke="#E5F8F8" stroke-width="0.21" clip-path="url(#e27)">I</text><text transform="matrix(1.086 0 0 1.051 869.095 2545.229)" stroke="#E5F8F8" stroke-width="0.148" clip-path="url(#e28)">-</text><text transform="matrix(0.989 0 0 1.049 894.064 2544.667)" stroke-width="0.46">1</text><text transform="matrix(1.047 0 0 1.063 933.107 2545.03)" stroke-width="0.202">0</text><text transform="matrix(0.995 0 0 1.065 973.522 2545.144)" stroke="none">5</text></g>
<g font-size="70.833" font-weight="700" fill="#1B2040" stroke="#1B2040" stroke-linejoin="round"><text transform="matrix(1.057 0 0 1.037 1679.68 2428.302)" stroke-width="1.325">5</text><text transform="matrix(1.217 0 0 1.044 1725.435 2428.363)" stroke-width="1.125">0</text><text transform="matrix(1.046 0 0 1.012 1776.509 2427.539)" stroke-width="2.293">K</text></g>
<g font-size="62.5" font-weight="400" fill="#1B2040" stroke="#1B2040" stroke-linejoin="round"><text transform="matrix(0.863 0 0 1.042 1584.456 2544.521)" stroke-width="0.803">P</text><text transform="matrix(0.93 0 0 1.069 1620.649 2545.14)" stroke="none">C</text><text transform="matrix(0.987 0 0 1.053 1665.019 2544.748)" stroke-width="0.299">H </text><text transform="matrix(1.086 0 0 1.056 1729.861 2544.814)" stroke-width="0.161">T</text><text transform="matrix(1.34 0 0 1.068 1760.214 2545.356)" stroke="#E2E3E7" stroke-width="0.773" clip-path="url(#e29)">r</text><text transform="matrix(0.868 0 0 1.018 1788.234 2544.647)" stroke-width="1.107">a</text><text transform="matrix(1.446 0 0 1.081 1824.046 2545.596)" stroke="#E2E3E7" stroke-width="1.125" clip-path="url(#e30)">f</text><text transform="matrix(1.38 0 0 1.074 1846.265 2545.452)" stroke="#E2E3E7" stroke-width="0.917" clip-path="url(#e31)">f</text><text transform="matrix(0.871 0 0 1.03 1871.291 2544.482)" stroke-width="1.063">i</text><text transform="matrix(1.01 0 0 1.053 1886.682 2545.224)" stroke="#E2E3E7" stroke-width="0.158" clip-path="url(#e32)">c</text></g>
<g font-size="70.833" font-weight="700" fill="#6C6C6C" stroke="#6C6C6C" stroke-linejoin="round"><text transform="matrix(1.035 0 0 1.017 1203.72 2903.061)" stroke-width="2.068">1</text><text transform="matrix(1.215 0 0 1.247 1249.825 2903.987)" stroke-width="0.231">.</text><text transform="matrix(1.06 0 0 1.039 1278.895 2903.742)" stroke-width="1.246">5</text><text transform="matrix(1.14 0 0 1.047 1325.514 2903.788)" stroke-width="0.576">M</text></g>
<g font-size="62.5" font-weight="400" fill="#1B2040" stroke="#1B2040" stroke-linejoin="round"><text transform="matrix(0.963 0 0 1.048 1110.007 3020.041)" stroke-width="0.651">I</text><text transform="matrix(1.138 0 0 1.047 1128.341 3020.409)" stroke="#ECECEC" stroke-width="0.2" clip-path="url(#e33)">m</text><text transform="matrix(1.079 0 0 1.029 1189.402 3019.914)" stroke-width="0.075">p</text><text transform="matrix(1.333 0 0 1.068 1227.165 3020.76)" stroke="#ECECEC" stroke-width="0.782" clip-path="url(#e34)">r</text><text transform="matrix(1.071 0 0 1.045 1252.332 3020.497)" stroke-width="0.096">e</text><text transform="matrix(0.938 0 0 1.039 1291.875 3020.342)" stroke-width="0.427">s</text><text transform="matrix(0.938 0 0 1.039 1324.253 3020.342)" stroke-width="0.427">s</text><text transform="matrix(0.87 0 0 1.031 1357.307 3019.897)" stroke-width="1.025">i</text><text transform="matrix(1.048 0 0 1.041 1372.758 3020.42)" stroke-width="0.252">o</text><text transform="matrix(1.073 0 0 1.042 1411.145 3020.316)" stroke="none">n</text><text transform="matrix(0.938 0 0 1.039 1451.304 3020.342)" stroke-width="0.427">s</text></g>
<g font-size="70.833" font-weight="700" fill="#36CCCC" stroke="#36CCCC" stroke-linejoin="round"><text transform="matrix(1.047 0 0 1.034 2951.436 2427.993)" stroke-width="1.385">2</text><text transform="matrix(1.054 0 0 1.039 3000.297 2428.331)" stroke-width="1.271">5</text><text transform="matrix(1.214 0 0 1.045 3045.843 2428.401)" stroke-width="1.055">0</text><text transform="matrix(1.043 0 0 1.013 3096.706 2427.572)" stroke-width="2.228">K</text></g>
<g font-size="62.5" font-weight="400" fill="#1B2040" stroke="#1B2040" stroke-linejoin="round"><text transform="matrix(0.947 0 0 1.053 2867.795 2544.748)" stroke-width="0.305">R</text><text transform="matrix(0.866 0 0 1.018 2910.355 2544.645)" stroke-width="1.113">a</text><text transform="matrix(1.086 0 0 1.054 2947.238 2545.149)" stroke="none">d</text><text transform="matrix(0.867 0 0 1.03 2988.97 2544.477)" stroke-width="1.077">i</text><text transform="matrix(1.085 0 0 1.073 3004.436 2545.234)" stroke="#E5F8F8" stroke-width="0.194" clip-path="url(#e35)">u</text><text transform="matrix(0.942 0 0 1.038 3045.179 2544.934)" stroke-width="0.443">s </text><text transform="matrix(0.861 0 0 1.041 3098.292 2544.496)" stroke-width="0.859">P</text><text transform="matrix(1.061 0 0 1.046 3132.33 2545.103)" stroke-width="0.083">o</text><text transform="matrix(1.091 0 0 1.033 3171.12 2544.549)" stroke="#E5F8F8" stroke-width="0.077" clip-path="url(#e36)">p</text><text transform="matrix(1.079 0 0 1.157 3210.111 2544.889)" stroke="none">.</text></g>
<g font-size="70.833" font-weight="700" fill="#1B2040" stroke="#1B2040" stroke-linejoin="round"><text transform="matrix(1.145 0 0 1.048 3902.968 2428.497)" stroke-width="0.897">9</text><text transform="matrix(1.118 0 0 1.04 3951.582 2428.227)" stroke-width="0.885">M</text></g>
<g font-size="62.5" font-weight="400" fill="#1B2040" stroke="#1B2040" stroke-linejoin="round"><text transform="matrix(0.953 0 0 1.045 3771.731 2544.584)" stroke-width="0.637">B</text><text transform="matrix(1.078 0 0 1.046 3813.682 2545.105)" stroke-width="0.08">e</text><text transform="matrix(0.868 0 0 1.019 3853.463 2544.661)" stroke-width="1.074">a</text><text transform="matrix(1.011 0 0 1.054 3890.492 2545.236)" stroke="#E2E3E7" stroke-width="0.183" clip-path="url(#e37)">c</text><text transform="matrix(1.091 0 0 1.052 3925.067 2544.972)" stroke="#E2E3E7" stroke-width="0.135" clip-path="url(#e38)">h </text><text transform="matrix(1 0 0 1.045 3983.531 2544.594)" stroke-width="0.599">V</text><text transform="matrix(0.907 0 0 1.035 4026.809 2544.583)" stroke-width="0.785">i</text><text transform="matrix(0.946 0 0 1.041 4043.671 2544.978)" stroke-width="0.349">s</text><text transform="matrix(0.907 0 0 1.035 4076.736 2544.583)" stroke-width="0.785">i</text><text transform="matrix(1.39 0 0 1.094 4091.622 2544.791)" stroke="#E2E3E7" stroke-width="0.698" clip-path="url(#e39)">t</text><text transform="matrix(0.946 0 0 1.041 4118.103 2544.978)" stroke-width="0.349">s</text></g>
<g font-size="70.833" font-weight="700" fill="#6C6C6C" stroke="#6C6C6C" stroke-linejoin="round"><text transform="matrix(1.039 0 0 1.018 3367.686 2903.077)" stroke-width="2.032">1</text><text transform="matrix(1.728 0 0 1.167 3407.123 2902.198)" stroke="#ECECEC" stroke-width="1.253" clip-path="url(#e40)">,</text><text transform="matrix(1.225 0 0 1.046 3439.829 2903.832)" stroke-width="0.99">0</text><text transform="matrix(1.225 0 0 1.046 3488.989 2903.832)" stroke-width="0.99">0</text><text transform="matrix(1.225 0 0 1.046 3538.149 2903.832)" stroke-width="0.99">0</text><text transform="matrix(1.293 0 0 1.282 3589.599 2912.095)" stroke="#ECECEC" stroke-width="1.344" clip-path="url(#e41)">+</text></g>
<g font-size="62.5" font-weight="400" fill="#1B2040" stroke="#1B2040" stroke-linejoin="round"><text transform="matrix(0.947 0 0 1.045 3332.755 3019.989)" stroke-width="0.627">B</text><text transform="matrix(1.081 0 0 1.074 3374.589 3020.653)" stroke="#ECECEC" stroke-width="0.231" clip-path="url(#e42)">u</text><text transform="matrix(0.938 0 0 1.039 3415.127 3020.354)" stroke-width="0.402">s</text><text transform="matrix(0.879 0 0 1.032 3448.113 3019.925)" stroke-width="0.946">i</text><text transform="matrix(1.074 0 0 1.043 3463.978 3020.328)" stroke="#ECECEC" stroke-width="0.054" clip-path="url(#e43)">n</text><text transform="matrix(1.071 0 0 1.046 3502.816 3020.509)" stroke-width="0.072">e</text><text transform="matrix(0.938 0 0 1.039 3542.347 3020.354)" stroke-width="0.402">s</text><text transform="matrix(0.938 0 0 1.039 3574.713 3020.354)" stroke-width="0.402">s</text><text transform="matrix(1.071 0 0 1.046 3605.769 3020.509)" stroke-width="0.072">e</text><text transform="matrix(0.938 0 0 1.039 3645.299 3020.354)" stroke-width="0.402">s</text></g>
</svg>
</body></html>
